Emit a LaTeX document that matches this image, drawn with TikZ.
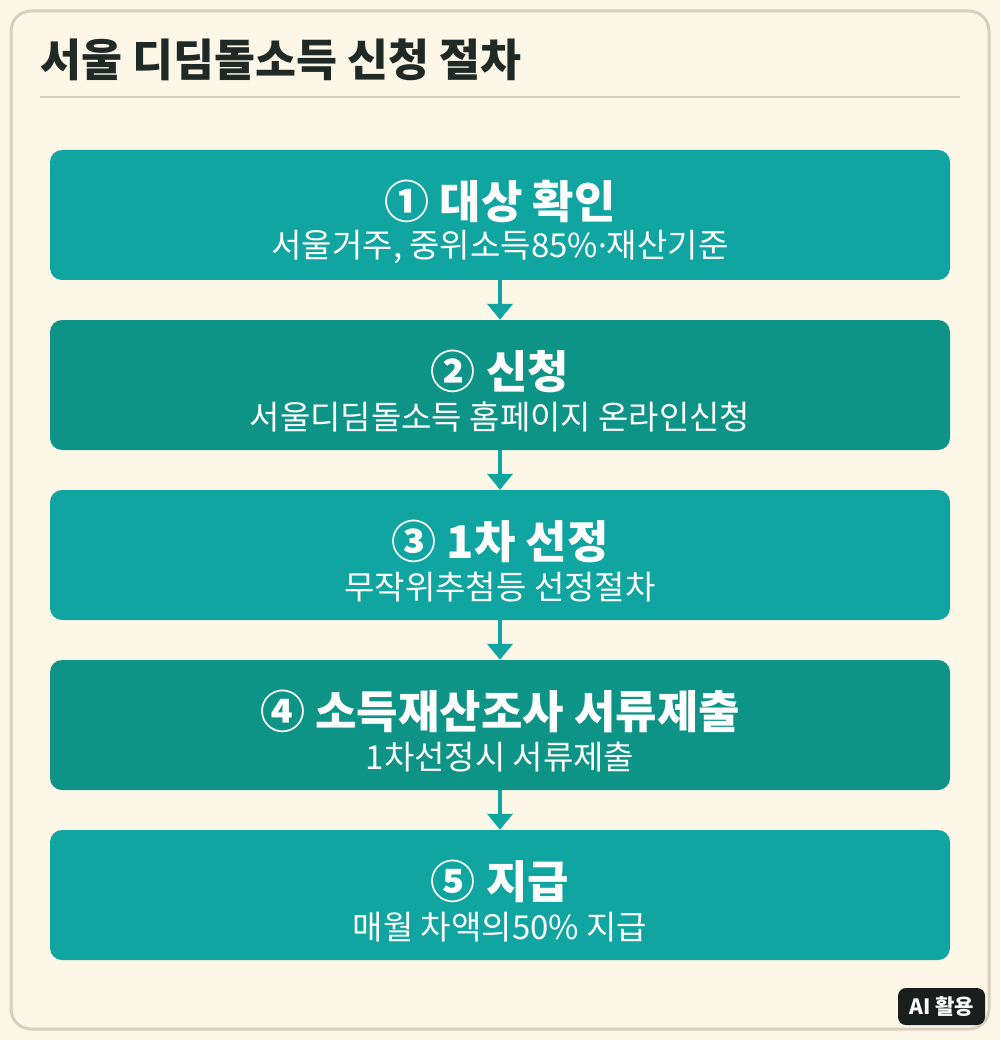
\documentclass[tikz,border=0pt]{standalone}
\usepackage{fontspec}
\setmainfont{Noto Sans CJK KR}
\newfontfamily\latinf{Noto Sans}
\usetikzlibrary{arrows.meta}
\definecolor{bgc}{HTML}{FDF7E7}
\definecolor{framec}{HTML}{D9CFBE}
\definecolor{titc}{HTML}{1F2A27}
\definecolor{tealA}{HTML}{10A5A0}
\definecolor{tealB}{HTML}{0E9487}
\definecolor{badgec}{HTML}{1A1F1E}
\tikzset{
  stepbox/.style={rounded corners=12pt, minimum width=900pt, minimum height=130pt, inner sep=0pt},
  steptitle/.style={text=white, font=\fontsize{45}{50}\selectfont\bfseries, inner sep=0pt, anchor=center},
  stepsub/.style={text=white, font=\fontsize{33}{38}\selectfont, inner sep=0pt, anchor=center},
  flow/.style={draw=tealA, line width=4pt, -{Triangle[width=25pt,length=16pt]}},
}
\begin{document}
\begin{tikzpicture}[x=1pt,y=-1pt]
\useasboundingbox (0,0) rectangle (1000,1040);
\fill[bgc] (0,0) rectangle (1000,1040);
\draw[framec, line width=3pt, rounded corners=20pt] (11,11) rectangle (989,1029);
\node[anchor=west, text=titc, font=\fontsize{44.5}{50}\selectfont\bfseries, inner sep=0pt] (title) at (40,60) {서울 디딤돌소득 신청 절차};
\draw[framec, line width=2pt] (40,97) -- (960,97);

\foreach \i/\y/\c in {1/215/tealA,2/385/tealB,3/555/tealA,4/725/tealB,5/895/tealA}{
  \node[stepbox, fill=\c] (b\i) at (500,\y) {};
}
\node[steptitle] (t1) at (500,201) {① 대상 확인};
\node[stepsub] (s1) at (500,247) {서울거주, 중위소득85\%{\latinf ·}재산기준};
\node[steptitle] (t2) at (500,371) {② 신청};
\node[stepsub] (s2) at (500,417) {서울디딤돌소득 홈페이지 온라인신청};
\node[steptitle] (t3) at (500,541) {③ 1차 선정};
\node[stepsub] (s3) at (500,587) {무작위추첨등 선정절차};
\node[steptitle] (t4) at (500,711) {④ 소득재산조사 서류제출};
\node[stepsub] (s4) at (500,757) {1차선정시 서류제출};
\node[steptitle] (t5) at (500,881) {⑤ 지급};
\node[stepsub] (s5) at (500,927) {매월 차액의50\% 지급};

\draw[flow] (b1.south) -- (b2.north);
\draw[flow] (b2.south) -- (b3.north);
\draw[flow] (b3.south) -- (b4.north);
\draw[flow] (b4.south) -- (b5.north);

\node[fill=badgec, rounded corners=8pt, text=white, font=\fontsize{21}{24}\selectfont\bfseries, minimum width=87pt, minimum height=37pt, inner sep=0pt] (ai) at (941.5,1006.5) {AI 활용};
\end{tikzpicture}
\end{document}
